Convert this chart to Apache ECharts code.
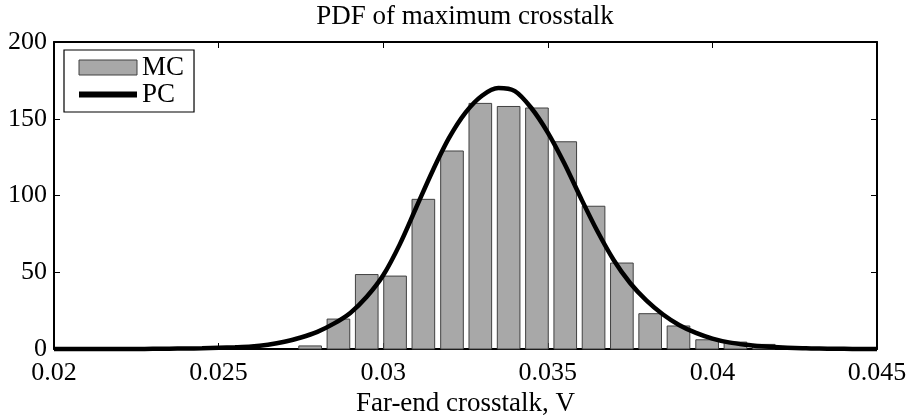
<!DOCTYPE html>
<html>
<head>
<meta charset="utf-8">
<title>PDF of maximum crosstalk</title>
<script src="https://cdn.jsdelivr.net/npm/echarts@6/dist/echarts.min.js"></script>
<style>
  html, body { margin: 0; padding: 0; background: #fff; }
  #chart { width: 908px; height: 415px; }
</style>
</head>
<body>
<div id="chart"></div>
<script>
// Monte Carlo histogram: bin centres (V) and heights
const binCenters = [0.02778, 0.02864, 0.02950, 0.03036, 0.03122, 0.03209, 0.03295, 0.03381, 0.03467,
                    0.03553, 0.03639, 0.03725, 0.03811, 0.03897, 0.03984, 0.04070, 0.04156];
const mcCounts = [2, 19.5, 48.5, 47.5, 97.5, 129, 160, 158, 157, 135, 93, 56, 23, 15, 6, 4.5, 3];

// Polynomial chaos PDF estimate sampled along the crosstalk axis
const pcX = [0.0200, 0.0205, 0.0210, 0.0215, 0.0220, 0.0225, 0.0230, 0.0235, 0.0240, 0.0245,
             0.0250, 0.0255, 0.0260, 0.0265, 0.0270, 0.0275, 0.0280, 0.0285, 0.0290, 0.0295,
             0.0300, 0.0305, 0.0310, 0.0315, 0.0320, 0.0325, 0.0330, 0.0335, 0.0340, 0.0345,
             0.0350, 0.0355, 0.0360, 0.0365, 0.0370, 0.0375, 0.0380, 0.0385, 0.0390, 0.0395,
             0.0400, 0.0405, 0.0410, 0.0415, 0.0420, 0.0425, 0.0430, 0.0435, 0.0440, 0.0445, 0.0450];
const pcY = [0, 0, 0, 0, 0, 0, 0.1, 0.2, 0.3, 0.5,
             0.8, 1.1, 1.6, 2.8, 4.7, 7.5, 11.2, 16.5, 23.5, 34,
             48, 68, 92, 116, 137.5, 154, 165, 170, 168, 157,
             141, 121, 98.5, 77, 58, 43, 31.5, 22.5, 15.5, 10.5,
             6.8, 4.3, 2.8, 1.8, 1.1, 0.6, 0.4, 0.2, 0.1, 0, 0];

// Axis tick settings
const xTicks = { min: 0.02, max: 0.045, step: 0.005 };
const yTicks = { min: 0, max: 200, step: 50 };

const FONT = 'Liberation Serif';
const binWidth = binCenters[1] - binCenters[0];

const chart = echarts.init(document.getElementById('chart'), null, { renderer: 'canvas' });

const axisLine = { show: true, onZero: false, lineStyle: { color: '#000', width: 2 } };
const axisTick = { show: true, inside: true, length: 6, lineStyle: { color: '#000', width: 1 } };
const tickLabel = { color: '#000', fontFamily: FONT, fontSize: 26 };

chart.setOption({
  animation: false,
  backgroundColor: '#fff',
  title: {
    text: 'PDF of maximum crosstalk',
    left: 465, textAlign: 'center',
    top: 3, padding: 0,
    textStyle: { color: '#000', fontFamily: FONT, fontSize: 27, fontWeight: 'normal' }
  },
  grid: { left: 54, right: 31, top: 42, bottom: 66, containLabel: false, outerBoundsMode: 'none' },
  legend: {
    orient: 'vertical',
    left: 64, top: 50,
    padding: [4, 10, 4, 12],
    itemWidth: 58, itemHeight: 15, itemGap: 0, itemTextGap: 5,
    backgroundColor: '#fff',
    borderColor: '#000', borderWidth: 1.2,
    textStyle: { color: '#000', fontFamily: FONT, fontSize: 27, lineHeight: 20.5 },
    data: [
      { name: 'MC', icon: 'rect', itemStyle: { color: '#a8a8a8', borderColor: '#404040', borderWidth: 1 } },
      { name: 'PC', itemStyle: { opacity: 0 }, lineStyle: { color: '#000', width: 6 } }
    ]
  },
  xAxis: [
    {
      type: 'value', position: 'bottom',
      min: xTicks.min, max: xTicks.max, interval: xTicks.step,
      axisLine, axisTick, splitLine: { show: false },
      axisLabel: Object.assign({ margin: 11, showMinLabel: true, showMaxLabel: true,
        formatter: v => String(+v.toFixed(3)) }, tickLabel),
      name: 'Far-end crosstalk, V', nameLocation: 'middle', nameGap: 33,
      nameTextStyle: { color: '#000', fontFamily: FONT, fontSize: 27 }
    },
    {
      type: 'value', position: 'top',
      min: xTicks.min, max: xTicks.max, interval: xTicks.step,
      axisLine, axisTick, splitLine: { show: false }, axisLabel: { show: false }
    }
  ],
  yAxis: [
    {
      type: 'value', position: 'left',
      min: yTicks.min, max: yTicks.max, interval: yTicks.step,
      axisLine, axisTick, splitLine: { show: false },
      axisLabel: Object.assign({ margin: 7, showMinLabel: true, showMaxLabel: true }, tickLabel)
    },
    {
      type: 'value', position: 'right',
      min: yTicks.min, max: yTicks.max, interval: yTicks.step,
      axisLine, axisTick, splitLine: { show: false }, axisLabel: { show: false }
    }
  ],
  series: [
    {
      name: 'MC',
      type: 'custom',
      xAxisIndex: 0, yAxisIndex: 0,
      itemStyle: { color: '#a8a8a8' },
      encode: { x: 0, y: 1 },
      data: binCenters.map((c, i) => [c, mcCounts[i]]),
      renderItem: function (params, api) {
        const x = api.value(0);
        const y = api.value(1);
        const half = binWidth * 0.4;
        const p0 = api.coord([x - half, y]);
        const p1 = api.coord([x + half, 0]);
        return {
          type: 'rect',
          shape: { x: p0[0], y: p0[1], width: p1[0] - p0[0], height: p1[1] - p0[1] },
          style: { fill: '#a8a8a8', stroke: '#404040', lineWidth: 1 }
        };
      },
      z: 2
    },
    {
      name: 'PC',
      type: 'line',
      xAxisIndex: 0, yAxisIndex: 0,
      data: pcX.map((x, i) => [x, pcY[i]]),
      symbol: 'none', showSymbol: false,
      smooth: 0.3,
      clip: false,
      itemStyle: { color: '#000' },
      lineStyle: { color: '#000', width: 4.5 },
      z: 3
    }
  ]
});
</script>
</body>
</html>
